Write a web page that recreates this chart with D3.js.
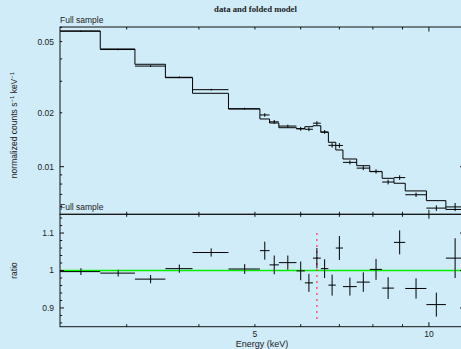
<!DOCTYPE html>
<html>
<head>
<meta charset="utf-8">
<script src="https://cdn.jsdelivr.net/npm/d3@7"></script>
<style>
  html, body { margin: 0; padding: 0; background: #d0ecf9; }
  svg { display: block; }
  text { font-family: "Liberation Sans", Arial, Helvetica, sans-serif; fill: #222; }
</style>
</head>
<body>
<svg id="chart" width="461" height="349"></svg>
<script>
// ---- data (energy bins in keV) ----
const binEdges = [2.3,2.7,3.1,3.5,3.9,4.5,5.1,5.3,5.5,5.9,6.1,6.3,6.5,6.7,6.9,7.1,7.5,7.9,8.3,8.7,9.1,9.9,10.7,11.5];
const modelCounts = [0.0573,0.04545,0.03733,0.03142,0.0257,0.0210,0.01847,0.01754,0.01651,0.01630,0.01673,0.01694,0.01556,0.01369,0.01240,0.01104,0.01013,0.00938,0.00861,0.00808,0.00732,0.00646,0.00577];
const dataCounts = [0.0571,0.04513,0.03647,0.03158,0.02693,0.02108,0.01945,0.01780,0.01686,0.01628,0.01618,0.01750,0.01564,0.01316,0.01314,0.01057,0.00982,0.00941,0.00821,0.00869,0.00697,0.00587,0.00596];
const dataErr = [0.00051,0.00041,0.00041,0.00035,0.00028,0.00027,0.00044,0.00044,0.00031,0.00041,0.00040,0.00046,0.00039,0.00038,0.00040,0.00027,0.00026,0.00026,0.00025,0.00026,0.00020,0.00021,0.00031];
const ratioVals = [0.997,0.993,0.977,1.005,1.048,1.004,1.053,1.015,1.021,0.999,0.967,1.033,1.005,0.961,1.060,0.957,0.969,1.003,0.953,1.075,0.952,0.909,1.033];
const ratioErr = [0.009,0.009,0.011,0.011,0.011,0.013,0.024,0.025,0.019,0.025,0.024,0.027,0.025,0.028,0.032,0.024,0.026,0.028,0.029,0.032,0.027,0.032,0.053];
const lineEnergy = 6.4;
const lineRange = [0.862, 1.1];
const xTickVals = [3,4,5,6,7,8,9,10];
const xTickLabels = {5:"5", 10:"10"};
const xMajor = [10];
const yTopTicks = [0.006,0.007,0.008,0.009,0.01,0.02,0.03,0.04,0.05,0.06];
const yTopLabels = {0.01:"0.01", 0.02:"0.02", 0.05:"0.05"};
const yTopMajor = [0.01];
const yRatioTicks = [0.86,0.88,0.9,0.92,0.94,0.96,0.98,1.0,1.02,1.04,1.06,1.08,1.1,1.12,1.14];
const yRatioLabels = {0.9:"0.9", 1:"1", 1.1:"1.1"};
const yRatioMajor = [0.9,1.0,1.1];

// ---- layout ----
const L = 60, R = 464, T = 27, M = 214.3, B = 326.7;
const svg = d3.select("#chart");

const x = d3.scaleLog().domain([2.3, 11.5]).range([L, R]);
const yTop = d3.scaleLog().domain([0.00542, 0.0603]).range([M, T]);
const yR = d3.scaleLinear().domain([0.85, 1.15]).range([B, M]);

const defs = svg.append("defs");
defs.append("clipPath").attr("id","clipTop").append("rect").attr("x",L).attr("y",T).attr("width",R-L).attr("height",M-T);
defs.append("clipPath").attr("id","clipR").append("rect").attr("x",L).attr("y",M).attr("width",R-L).attr("height",B-M);

const bins = modelCounts.map((m,i)=>({
  lo: binEdges[i], hi: binEdges[i+1], mid: (binEdges[i]+binEdges[i+1])/2,
  model: m, data: dataCounts[i], err: dataErr[i], ratio: ratioVals[i], rerr: ratioErr[i]
}));

// ---- top panel ----
const gTop = svg.append("g").attr("clip-path","url(#clipTop)");
let p = d3.path();
bins.forEach((b,i)=>{
  if (i===0) p.moveTo(x(b.lo), yTop(b.model)); else p.lineTo(x(b.lo), yTop(b.model));
  p.lineTo(x(b.hi), yTop(b.model));
});
gTop.append("path").attr("d", p.toString()).attr("fill","none").attr("stroke","#000").attr("stroke-width",1);

bins.forEach(b=>{
  gTop.append("line").attr("x1",x(b.lo)).attr("x2",x(b.hi)).attr("y1",yTop(b.data)).attr("y2",yTop(b.data))
    .attr("stroke","#000").attr("stroke-width",1);
  gTop.append("line").attr("x1",x(b.mid)).attr("x2",x(b.mid)).attr("y1",yTop(b.data-b.err)).attr("y2",yTop(b.data+b.err))
    .attr("stroke","#000").attr("stroke-width",1);
});

// ---- ratio panel ----
const gR = svg.append("g").attr("clip-path","url(#clipR)");
gR.append("line").attr("x1",L).attr("x2",R).attr("y1",yR(1)).attr("y2",yR(1))
  .attr("stroke","#00ee00").attr("stroke-width",1.6);
gR.append("line").attr("x1",x(lineEnergy)).attr("x2",x(lineEnergy)).attr("y1",yR(lineRange[1])).attr("y2",yR(lineRange[0]))
  .attr("stroke","#ff4444").attr("stroke-width",1.3).attr("stroke-dasharray","2,4");
bins.forEach(b=>{
  gR.append("line").attr("x1",x(b.lo)).attr("x2",x(b.hi)).attr("y1",yR(b.ratio)).attr("y2",yR(b.ratio))
    .attr("stroke","#000").attr("stroke-width",1);
  gR.append("line").attr("x1",x(b.mid)).attr("x2",x(b.mid)).attr("y1",yR(b.ratio-b.rerr)).attr("y2",yR(b.ratio+b.rerr))
    .attr("stroke","#000").attr("stroke-width",1);
});

// ---- frames ----
const frame = svg.append("g").attr("fill","none").attr("stroke","#111").attr("stroke-width",1);
frame.append("rect").attr("x",L).attr("y",T).attr("width",R-L).attr("height",M-T);
frame.append("rect").attr("x",L).attr("y",M).attr("width",R-L).attr("height",B-M);

// ---- ticks ----
const tk = svg.append("g").attr("stroke","#111").attr("stroke-width",1);
const MAJ = 4.5, MIN = 2.5;
xTickVals.forEach(v=>{
  const len = xMajor.includes(v) ? MAJ : MIN;
  const xx = x(v);
  [[T,1],[M,-1],[M,1],[B,-1]].forEach(([yy,dir])=>{
    tk.append("line").attr("x1",xx).attr("x2",xx).attr("y1",yy).attr("y2",yy+dir*len);
  });
});
yTopTicks.forEach(v=>{
  const len = yTopMajor.includes(v) ? MAJ-0.5 : MIN-0.3;
  const yy = yTop(v);
  tk.append("line").attr("x1",L).attr("x2",L+len).attr("y1",yy).attr("y2",yy);
  tk.append("line").attr("x1",R).attr("x2",R-len).attr("y1",yy).attr("y2",yy);
});
yRatioTicks.forEach(v=>{
  const len = yRatioMajor.some(m=>Math.abs(m-v)<1e-9) ? MAJ-0.5 : MIN-0.3;
  const yy = yR(v);
  tk.append("line").attr("x1",L).attr("x2",L+len).attr("y1",yy).attr("y2",yy);
  tk.append("line").attr("x1",R).attr("x2",R-len).attr("y1",yy).attr("y2",yy);
});

// ---- tick labels ----
const lab = svg.append("g").attr("font-size","8.5px");
Object.keys(xTickLabels).forEach(k=>{
  lab.append("text").attr("x",x(+k)).attr("y",337).attr("text-anchor","middle").text(xTickLabels[k]);
});
Object.keys(yTopLabels).forEach(k=>{
  lab.append("text").attr("x",54).attr("y",yTop(+k)).attr("dy","0.35em").attr("text-anchor","end").text(yTopLabels[k]);
});
Object.keys(yRatioLabels).forEach(k=>{
  lab.append("text").attr("x",54).attr("y",yR(+k)).attr("dy","0.35em").attr("text-anchor","end").text(yRatioLabels[k]);
});

// ---- titles ----
svg.append("text").attr("x",255.5).attr("y",12).attr("text-anchor","middle")
  .style("font-family","'Liberation Serif', 'Times New Roman', serif").attr("font-weight","bold").attr("font-size","8.7px")
  .text("data and folded model");
svg.append("text").attr("x",L).attr("y",23).attr("font-size","8.5px").text("Full sample");
svg.append("text").attr("x",L).attr("y",210).attr("font-size","8.5px").text("Full sample");
svg.append("text").attr("x",(L+R)/2).attr("y",347).attr("text-anchor","middle").attr("font-size","9px").text("Energy (keV)");
const yl = svg.append("text").attr("transform",`translate(17,125) rotate(-90)`).attr("text-anchor","middle").attr("font-size","8.5px");
yl.append("tspan").text("normalized counts s");
yl.append("tspan").attr("dy","-3").attr("font-size","6px").text("−1");
yl.append("tspan").attr("dy","3").text(" keV");
yl.append("tspan").attr("dy","-3").attr("font-size","6px").text("−1");
svg.append("text").attr("transform",`translate(17,${(M+B)/2}) rotate(-90)`).attr("text-anchor","middle").attr("font-size","8.5px").text("ratio");
</script>
</body>
</html>
